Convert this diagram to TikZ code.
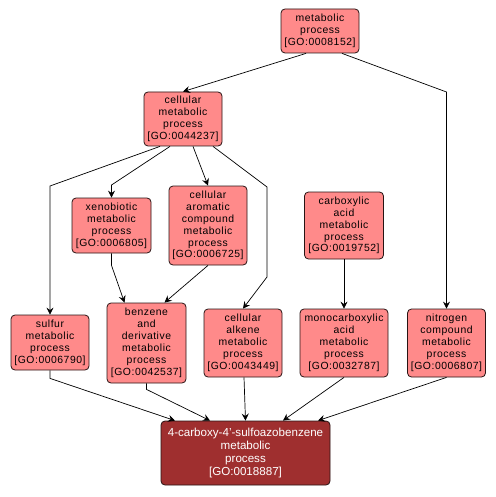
\documentclass[tikz,border=0pt]{standalone}
\usepackage{fontspec}
\setmainfont{Liberation Sans}
\usetikzlibrary{arrows.meta}
\definecolor{gofill}{RGB}{255,138,138}
\definecolor{gomain}{RGB}{159,47,47}
\definecolor{goline}{RGB}{40,20,20}
\begin{document}
\begin{tikzpicture}[x=1pt,y=-1pt,
  gobox/.style={draw=goline,line width=0.8pt,fill=gofill,rounded corners=4pt,
    align=center,inner sep=0pt,font=\fontsize{10.4}{11.9}\selectfont\addfontfeatures{LetterSpace=5}},
  mainbox/.style={draw=goline,line width=0.8pt,fill=gomain,rounded corners=4pt,text=white,
    align=center,inner sep=0pt,font=\fontsize{11.6}{13.3}\selectfont},
  edge/.style={draw=black,line width=0.7pt,-{Stealth[length=7pt,width=7pt,inset=2.5pt]}}]
\useasboundingbox (0,0) rectangle (495,497);
\fill[white] (0,0) rectangle (495,497);
\node[gobox,minimum width=78pt,minimum height=44pt] (mp) at (320,31) {metabolic\\process\\{[GO:0008152]}};
\node[gobox,minimum width=78pt,minimum height=54pt] (cmp) at (183,119) {cellular\\metabolic\\process\\{[GO:0044237]}};
\node[gobox,minimum width=79pt,minimum height=55pt] (xeno) at (111.5,225.5) {xenobiotic\\metabolic\\process\\{[GO:0006805]}};
\node[gobox,minimum width=78pt,minimum height=79pt] (arom) at (208,225.5) {cellular\\aromatic\\compound\\metabolic\\process\\{[GO:0006725]}};
\node[gobox,minimum width=79pt,minimum height=67pt] (carb) at (344,225.5) {carboxylic\\acid\\metabolic\\process\\{[GO:0019752]}};
\node[gobox,minimum width=78pt,minimum height=55pt] (sulf) at (50,342.5) {sulfur\\metabolic\\process\\{[GO:0006790]}};
\node[gobox,minimum width=79pt,minimum height=80pt] (benz) at (146.5,343) {benzene\\and\\derivative\\metabolic\\process\\{[GO:0042537]}};
\node[gobox,minimum width=78pt,minimum height=68pt] (alk) at (243,343) {cellular\\alkene\\metabolic\\process\\{[GO:0043449]}};
\node[gobox,minimum width=88pt,minimum height=68pt] (mono) at (344,343) {monocarboxylic\\acid\\metabolic\\process\\{[GO:0032787]}};
\node[gobox,minimum width=78pt,minimum height=68pt] (nitr) at (446.5,343) {nitrogen\\compound\\metabolic\\process\\{[GO:0006807]}};
\node[mainbox,minimum width=169pt,minimum height=64pt] (main) at (245.5,453) {4-carboxy-4'-sulfoazobenzene\\metabolic\\process\\{[GO:0018887]}};
% edges
\draw[edge] ([xshift=-14pt]mp.south) -- (cmp.north);
\draw[edge] ([xshift=22pt]mp.south) -- (nitr.north |- 0,92) -- (nitr.north);
\draw[edge] ([xshift=-23pt]cmp.south) -- (sulf.north |- 0,186) -- (sulf.north);
\draw[edge] ([xshift=-13pt]cmp.south) -- (xeno.north |- 0,185) -- (xeno.north);
\draw[edge] ([xshift=10pt]cmp.south) -- (arom.north);
\draw[edge] ([xshift=30pt]cmp.south) -- (267,187) -- (267,277) -- (alk.north);
\draw[edge] (xeno.south) -- ([yshift=-12pt]xeno.south) -- ([xshift=-22pt]benz.north);
\draw[edge] (arom.south) -- ([xshift=18pt]benz.north);
\draw[edge] (carb.south) -- (mono.north);
\draw[edge] (sulf.south) -- ([yshift=-8pt]sulf.south) -- ([xshift=-70.5pt]main.north);
\draw[edge] (benz.south) -- ([yshift=-6pt]benz.south) -- ([xshift=-35.5pt]main.north);
\draw[edge] ([xshift=1pt]alk.south) -- (main.north);
\draw[edge] (mono.south) -- ([xshift=37.5pt]main.north);
\draw[edge] (nitr.south) -- ([xshift=72.5pt]main.north);
\end{tikzpicture}
\end{document}
